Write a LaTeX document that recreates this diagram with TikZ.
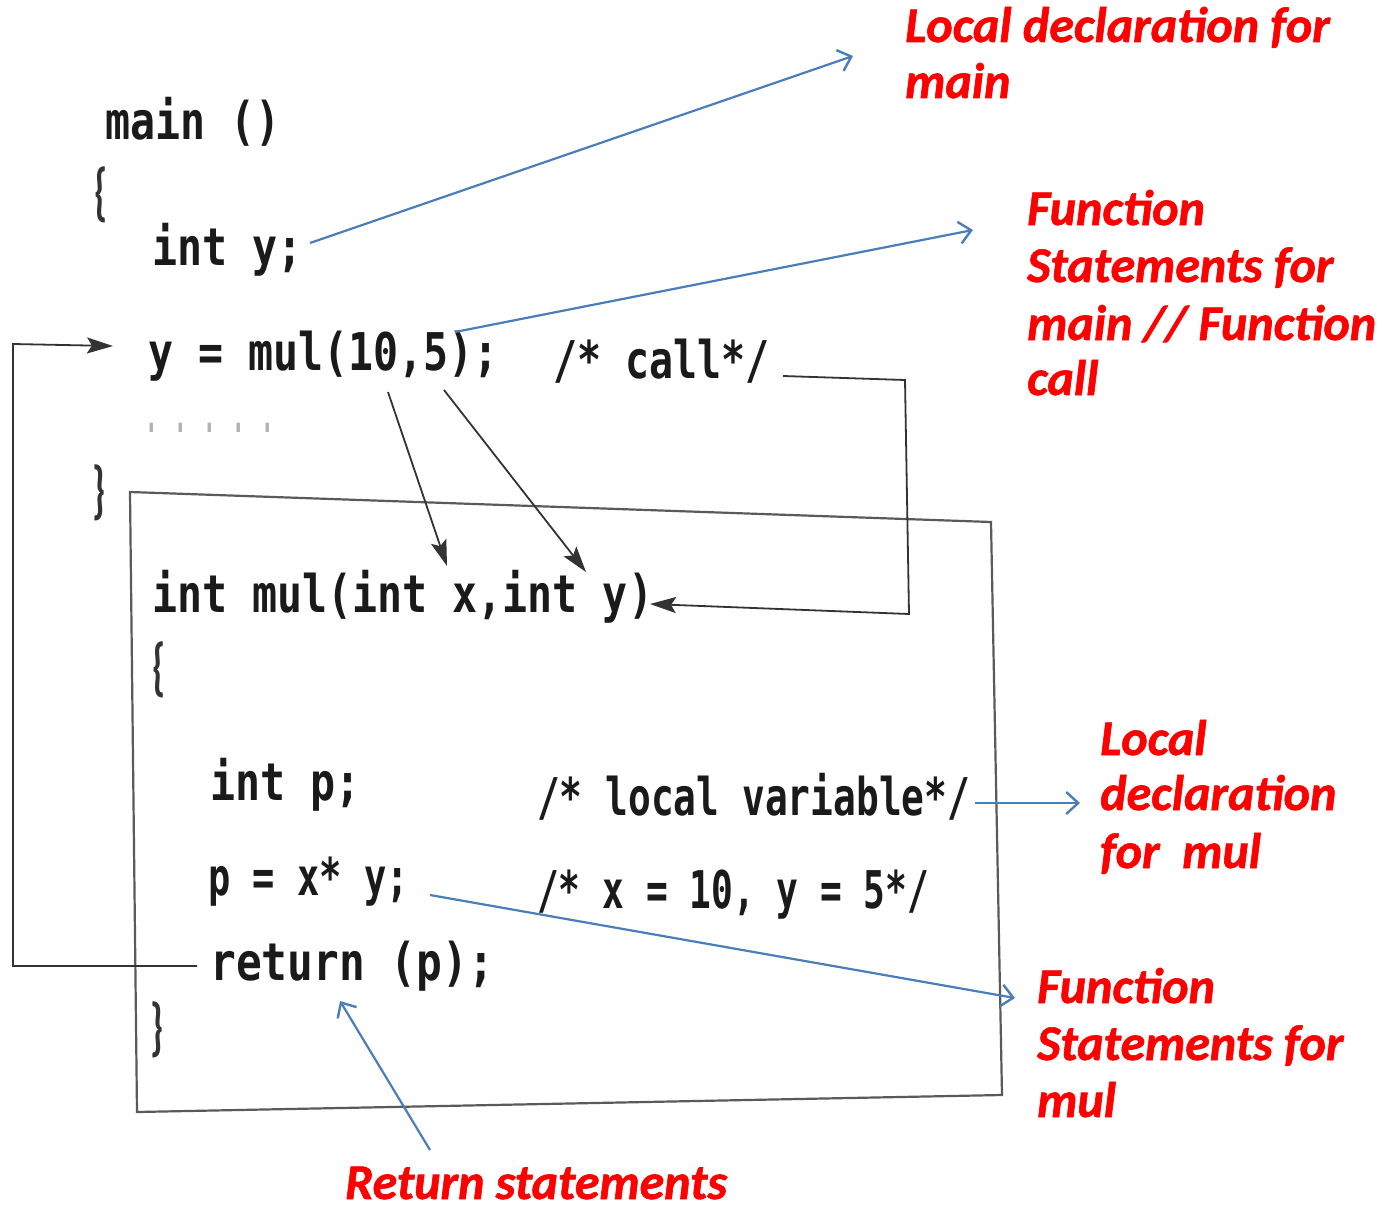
\documentclass[tikz,border=0pt]{standalone}
\usepackage{fontspec}
\setmainfont{Carlito}
\newfontfamily\codefont[FakeStretch=0.8,BoldFont={DejaVu Sans Mono Bold}]{DejaVu Sans Mono}
\newfontfamily\notefont[FakeBold=1.2]{Carlito}
\usetikzlibrary{arrows.meta}
\definecolor{inkgray}{HTML}{333333}
\definecolor{boxgray}{HTML}{5A5A5A}
\definecolor{noteblue}{HTML}{4A7EBB}
\definecolor{notered}{HTML}{FF0000}
\definecolor{codeink}{HTML}{1A1A1A}
\tikzset{
  code/.style={anchor=base west, inner sep=0pt, text=codeink,
    font=\codefont\bfseries\fontsize{52}{60}\selectfont},
  brace/.style={anchor=center, inner sep=0pt, text=inkgray, xscale=0.6,
    font=\bfseries\fontsize{64}{70}\selectfont},
  note/.style={anchor=base west, inner sep=0pt, text=notered,
    font=\notefont\bfseries\itshape\fontsize{50}{57}\selectfont},
  flow/.style={draw=inkgray, line width=1.8pt, -{Stealth[length=26pt,width=16pt,inset=5pt]}},
  pointer/.style={draw=noteblue, line width=2.2pt,
    -{Straight Barb[length=12pt,width=22pt,line width=2.4pt]}}
}
\begin{document}
\begin{tikzpicture}[x=1pt,y=-1pt]
\useasboundingbox[fill=white] (0,0) rectangle (1384,1212);

% body of mul, drawn as a slightly skewed frame
\draw[draw=boxgray, line width=2.2pt] (130,492) -- (991,522) -- (1002,1095) -- (137,1112) -- cycle;

% function main
\node[code] (mainhead) at (105,140) {main ()};
\node[brace] (mainopen) at (101,195) {\{};
\node[code] (decly) at (152,265) {int y;};
\node[code] (calln) at (148,370) {y = mul(10,5);};
\node[code, xscale=0.96] (callc) at (553,378) {/* call*/};
\node[code, text=black!30, xscale=0.5] (dots) at (145,432) {. . . . .};
\node[brace] (mainclose) at (99,493) {\}};

% function mul
\node[code] (mulhead) at (152,612) {int mul(int x,int y)};
\node[brace] (mulopen) at (159,670) {\{};
\node[code] (declp) at (210,800) {int p;};
\node[code, xscale=0.91] (locc) at (537,815) {/* local variable*/};
\node[code, xscale=0.89] (stmt) at (208,895) {p = x* y;};
\node[code, xscale=0.87] (valc) at (537,908) {/* x = 10, y = 5*/};
\node[code, xscale=1.03] (ret) at (210,980) {return (p);};
\node[brace] (mulclose) at (157,1030) {\}};

% labels
\node[note] (nmainA) at (905,42) {Local declaration for};
\node[note] (nmainB) at (905,98) {main};
\node[note] (ncallA) at (1027,225) {Function};
\node[note] (ncallB) at (1027,282) {Statements for};
\node[note] (ncallC) at (1027,340) {main // Function};
\node[note] (ncallD) at (1027,395) {call};
\node[note] (nlocA) at (1100,755) {Local};
\node[note] (nlocB) at (1100,810) {declaration};
\node[note] (nlocC) at (1100,868) {for\ \ mul};
\node[note] (nstmtA) at (1037,1003) {Function};
\node[note] (nstmtB) at (1037,1060) {Statements for};
\node[note] (nstmtC) at (1037,1117) {mul};
\node[note] (nret) at (345,1199) {Return statements};

% anchor points on the code
\coordinate (retL) at (197,966);
\coordinate (loopBL) at (13,966);
\coordinate (loopTL) at (13,344);
\coordinate (callTip) at (113,346);
\coordinate (callS) at (783,376);
\coordinate (callR1) at (905,380);
\coordinate (callR2) at (909,614);
\coordinate (parTip) at (650,604);
\coordinate (argA) at (388,392);
\coordinate (parX) at (447,566);
\coordinate (argB) at (444,390);
\coordinate (parY) at (586,572);

\coordinate (yS) at (310,243);
\coordinate (yE) at (853,56);
\coordinate (cS) at (455,332);
\coordinate (cE) at (973,230);
\coordinate (lS) at (975,803);
\coordinate (lE) at (1080,803);
\coordinate (sS) at (430,895);
\coordinate (sE) at (1015,998);
\coordinate (rS) at (430,1150);
\coordinate (rE) at (340,1001);

% control flow
\draw[flow] (retL) -- (loopBL) -- (loopTL) -- (callTip);
\draw[flow] (callS) -- (callR1) -- (callR2) -- (parTip);
\draw[flow] (argA) -- (parX);
\draw[flow] (argB) -- (parY);

% annotation pointers
\draw[pointer] (yS) -- (yE);
\draw[pointer] (cS) -- (cE);
\draw[pointer] (lS) -- (lE);
\draw[pointer] (sS) -- (sE);
\draw[pointer] (rS) -- (rE);
\end{tikzpicture}
\end{document}
